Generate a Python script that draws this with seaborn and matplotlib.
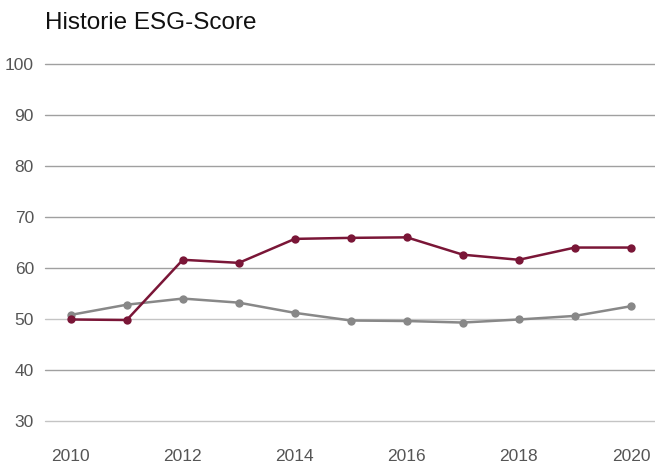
import pandas as pd
import matplotlib
matplotlib.use("Agg")
import matplotlib.pyplot as plt
import seaborn as sns

# ====== Data ======
years = [2010, 2011, 2012, 2013, 2014, 2015, 2016, 2017, 2018, 2019, 2020]
company = [49.9, 49.8, 61.6, 61.0, 65.7, 65.9, 66.0, 62.6, 61.6, 64.0, 64.0]
sector = [50.8, 52.8, 54.0, 53.2, 51.2, 49.7, 49.6, 49.3, 49.9, 50.6, 52.5]
series_names = ["Unternehmen", "Branche"]
colors = ["#7a1637", "#888888"]
y_ticks = [30, 40, 50, 60, 70, 80, 90, 100]
x_ticks = [2010, 2012, 2014, 2016, 2018, 2020]

df = pd.DataFrame({
    "Jahr": years * 2,
    "Score": company + sector,
    "Serie": [series_names[0]] * len(years) + [series_names[1]] * len(years),
})

# ====== Plot ======
sns.set_style("white")
plt.rcParams["font.family"] = ["Liberation Sans", "DejaVu Sans"]

fig = plt.figure(figsize=(6.55, 4.63), dpi=100)
ax = fig.add_axes([0.0687, 0.0907, 0.9313, 0.7713])

for yv in y_ticks:
    c = "#c4c4c4" if yv in (30, 50) else "#a0a0a0"
    ax.axhline(yv, color=c, lw=1, zorder=0, clip_on=False)

sns.lineplot(
    data=df, x="Jahr", y="Score", hue="Serie", hue_order=series_names[::-1],
    palette=dict(zip(series_names, colors)), marker="o", markersize=6,
    markeredgewidth=0, linewidth=1.8, legend=False, ax=ax,
)

ax.set_xlim(2009.54, 2020.43)
ax.set_ylim(30, 100)
ax.set_yticks(y_ticks)
ax.set_xticks(x_ticks)
ax.set_xlabel("")
ax.set_ylabel("")
for s in ax.spines.values():
    s.set_visible(False)
ax.tick_params(axis="both", length=0, labelsize=12.5, labelcolor="#555555")
ax.tick_params(axis="y", pad=8)
ax.tick_params(axis="x", pad=20)

fig.text(0.0687, 0.937, "Historie ESG-Score", fontsize=17.5, color="#111111",
         ha="left", va="baseline")

fig.savefig("out.png", dpi=100)
